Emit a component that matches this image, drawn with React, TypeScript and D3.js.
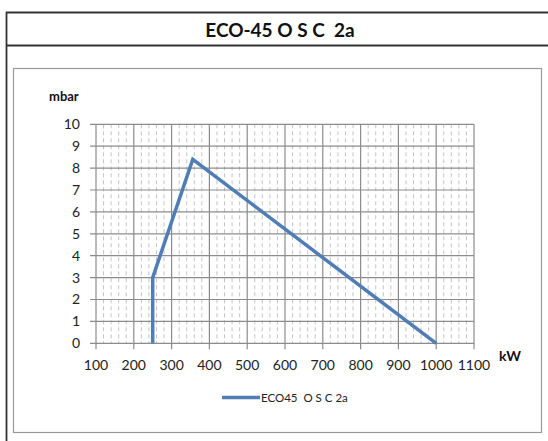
import React from "react";
import * as d3 from "d3";

const title = "ECO-45 O S C  2a";
const seriesName = "ECO45  O S C 2a";
const powerKW = [250, 250, 356, 1000];
const pressureMbar = [0, 3, 8.4, 0];
const xTicks = [100, 200, 300, 400, 500, 600, 700, 800, 900, 1000, 1100];
const yTicks = [0, 1, 2, 3, 4, 5, 6, 7, 8, 9, 10];
const xMinor = d3.range(100, 1100, 20).filter((v) => v % 100 !== 0);

export default function App() {
  const W = 548, H = 441;
  const x = d3.scaleLinear().domain([100, 1100]).range([96, 474]);
  const y = d3.scaleLinear().domain([0, 10]).range([343.3, 124.3]);
  const line = d3
    .line<number>()
    .x((_, i) => x(powerKW[i]))
    .y((d) => y(d));
  const font = "Lato, 'Open Sans', sans-serif";
  return (
    <svg
      width={W}
      height={H}
      style={{ position: "absolute", left: 0, top: 0, background: "#fff", whiteSpace: "pre" }}
      fontFamily={font}
    >
      {/* outer table */}
      <line x1={6.5} x2={6.5} y1={12} y2={H} stroke="#333" strokeWidth={1.8} />
      <line x1={6} x2={W} y1={12.5} y2={12.5} stroke="#333" strokeWidth={1.8} />
      <line x1={6} x2={W} y1={45.5} y2={45.5} stroke="#333" strokeWidth={1.8} />
      <text x={280} y={37} textAnchor="middle" fontSize={19} fontWeight="bold" fill="#111" style={{ whiteSpace: "pre" }}>
        {title}
      </text>
      {/* chart box */}
      <rect x={13.5} y={68.5} width={528} height={364} fill="#fff" stroke="#999" strokeWidth={1.2} />
      {/* minor vertical grid */}
      {xMinor.map((v) => (
        <line
          key={"m" + v}
          x1={x(v)}
          x2={x(v)}
          y1={y(10)}
          y2={y(0)}
          stroke="#c4c4c4"
          strokeWidth={1}
          strokeDasharray="4,3"
        />
      ))}
      {/* major grid */}
      {yTicks.map((v) => (
        <line key={"gy" + v} x1={90} x2={x(1100)} y1={y(v)} y2={y(v)} stroke="#8c8c8c" strokeWidth={1.2} />
      ))}
      {xTicks.map((v) => (
        <line key={"gx" + v} x1={x(v)} x2={x(v)} y1={y(10)} y2={y(0) + 6} stroke="#8c8c8c" strokeWidth={1.2} />
      ))}
      {/* y labels */}
      {yTicks.map((v) => (
        <text key={"ty" + v} x={80} y={y(v)} dy="0.35em" textAnchor="end" fontSize={14} fill="#222">
          {v}
        </text>
      ))}
      {xTicks.map((v) => (
        <text key={"tx" + v} x={x(v)} y={365} dy="0.35em" textAnchor="middle" fontSize={14} fill="#222">
          {v}
        </text>
      ))}
      <text x={49} y={101} fontSize={13} fontWeight="bold" fill="#111">
        mbar
      </text>
      <text x={499} y={361} fontSize={14} fontWeight="bold" fill="#111">
        kW
      </text>
      {/* series */}
      <path d={line(pressureMbar) || ""} fill="none" stroke="#4F7DB6" strokeWidth={3.5} strokeLinejoin="miter" />
      {/* legend */}
      <line x1={222} x2={260} y1={397.5} y2={397.5} stroke="#4F7DB6" strokeWidth={3.5} />
      <text x={261} y={397.5} dy="0.35em" fontSize={11.5} fill="#222" style={{ whiteSpace: "pre" }}>
        {seriesName}
      </text>
    </svg>
  );
}
